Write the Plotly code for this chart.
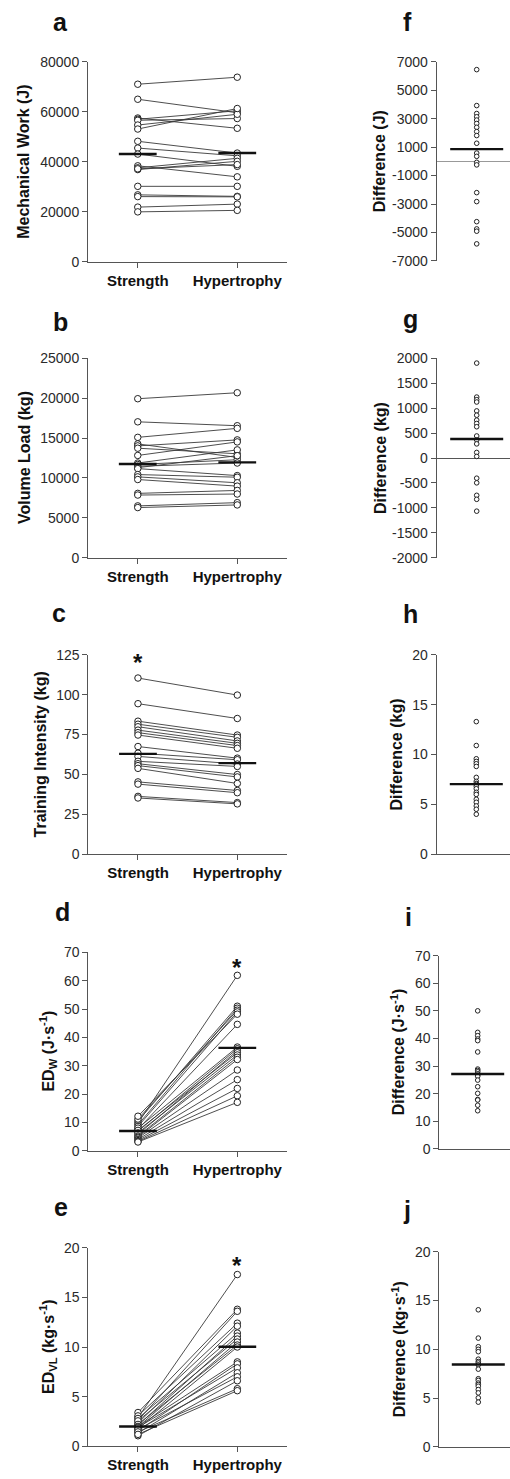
import plotly.graph_objects as go

W, H = 510, 1479
FONT = "Liberation Sans, Arial, sans-serif"

CATEGORIES = ["Strength", "Hypertrophy"]

# ---- paired data (left panels) ----
A_STRENGTH = [71000, 65000, 57500, 57000, 56600, 54700, 53100, 48200, 45500, 43100,
              38400, 37600, 36900, 37200, 30200, 26800, 26100, 21900, 20000]
A_HYPERTROPHY = [73800, 59600, 53400, 60400, 57300, 59000, 61300, 43500, 42400, 38200,
                 34000, 41400, 40200, 38900, 30200, 26200, 26000, 23100, 20600]
A_MEANS = [43100, 43500]

B_STRENGTH = [19950, 17050, 15100, 14280, 14030, 13740, 12830, 11880, 11700, 11470,
              11300, 11180, 10430, 10140, 9810, 8070, 7860, 6500, 6290]
B_HYPERTROPHY = [20700, 16560, 16230, 12580, 14780, 13040, 14530, 13530, 12290, 11880,
                 12800, 10300, 10100, 9400, 8980, 8440, 7990, 6910, 6620]
B_MEANS = [11750, 11960]

C_STRENGTH = [110.5, 94.4, 83.4, 81.5, 79.9, 77.8, 76.2, 74.7, 67.5, 63.3,
              61.3, 58.2, 56.7, 55.5, 53.8, 45.3, 43.9, 36.2, 35.2]
C_HYPERTROPHY = [99.8, 85.1, 74.7, 73.3, 71.0, 69.5, 68.1, 66.4, 60.2, 59.2,
                 56.5, 55.0, 49.9, 48.4, 44.3, 39.9, 38.5, 32.3, 31.5]
C_MEANS = [62.9, 57.1]

D_STRENGTH = [9.8, 10.5, 9.2, 11.2, 8.6, 12.2, 7.6, 8.0, 6.9, 5.8,
              7.2, 6.3, 5.2, 4.8, 4.5, 4.0, 3.6, 3.3, 3.1]
D_HYPERTROPHY = [61.9, 51.0, 50.3, 49.6, 49.0, 48.2, 44.6, 36.6, 36.0, 35.3,
                 34.6, 33.8, 33.0, 32.2, 28.5, 25.1, 22.0, 19.4, 17.1]
D_MEANS = [7.0, 36.3]

E_STRENGTH = [2.9, 3.4, 2.6, 3.06, 2.33, 2.8, 2.13, 2.56, 1.96, 2.2,
              1.76, 2.0, 1.56, 1.9, 1.33, 1.7, 1.06, 1.45, 1.2]
E_HYPERTROPHY = [17.3, 13.8, 13.6, 12.4, 12.1, 11.4, 11.1, 10.8, 10.5, 10.2,
                 10.0, 8.5, 8.3, 7.9, 7.4, 7.0, 6.6, 5.8, 5.6]
E_MEANS = [1.99, 10.03]

# ---- difference data (right panels) ----
F_DIFF = [6444, 3917, 3360, 3130, 2900, 2660, 2390, 2090, 1810, 1270,
          580, 350, -70, -250, -2200, -2830, -4240, -4750, -4910, -5800]
F_MEAN = 858
G_DIFF = [1907, 1225, 1172, 1126, 947, 861, 762, 695, 629, 444,
          364, 285, 113, 33, -404, -497, -748, -828, -1066]
G_MEAN = 384
H_DIFF = [13.3, 10.9, 9.57, 9.3, 9.07, 8.8, 7.7, 7.3, 7.1, 7.0,
          6.8, 6.56, 6.2, 5.99, 5.5, 5.2, 4.83, 4.5, 4.0]
H_MEAN = 7.02
I_DIFF = [50.0, 42.2, 41.0, 39.8, 39.2, 35.1, 28.9, 28.4, 27.9, 27.2,
          26.7, 26.3, 24.9, 22.5, 20.1, 17.9, 17.7, 15.8, 13.8]
I_MEAN = 27.1
J_DIFF = [14.05, 11.15, 10.27, 10.0, 9.76, 8.99, 8.75, 8.6, 8.41, 7.97,
          6.99, 6.82, 6.55, 6.4, 6.22, 5.88, 5.54, 5.03, 4.59]
J_MEAN = 8.45

F_TICKS = [-7000, -5000, -3000, -1000, 1000, 3000, 5000, 7000]
G_TICKS = [-2000, -1500, -1000, -500, 0, 500, 1000, 1500, 2000]

# ---------------------------------------------------------------
AXIS_COLOR = "#555555"
TICK_COLOR = "#2a2a2a"
LINE_COLOR = "#3a3a3a"


def xdom(l, r):
    return [l / W, min(r / W, 1.0)]


def ydom(top, bottom):
    return [1 - bottom / H, 1 - top / H]


fig = go.Figure()
layout = dict(
    width=W, height=H, margin=dict(l=0, r=0, t=0, b=0),
    paper_bgcolor="white", plot_bgcolor="white", showlegend=False,
    font=dict(family=FONT, color=TICK_COLOR),
)
annotations = []

left_panels = [
    dict(letter="a", s=A_STRENGTH, h=A_HYPERTROPHY, m=A_MEANS, yr=(0, 80000), dt=20000,
         box=(88, 287, 54.3, 256.7), title="Mechanical Work (J)", tx=24, lb=(60, 27), star=None),
    dict(letter="b", s=B_STRENGTH, h=B_HYPERTROPHY, m=B_MEANS, yr=(0, 25000), dt=5000,
         box=(88, 287, 354.3, 555.7), title="Volume Load (kg)", tx=24, lb=(60, 330), star=None),
    dict(letter="c", s=C_STRENGTH, h=C_HYPERTROPHY, m=C_MEANS, yr=(0, 125), dt=25,
         box=(88.3, 287, 654, 855.3), title="Training Intensity (kg)", tx=40, lb=(59, 625),
         star=(0, 123.8)),
    dict(letter="d", s=D_STRENGTH, h=D_HYPERTROPHY, m=D_MEANS, yr=(0, 70), dt=10,
         box=(88.3, 287, 954.7, 1155.3), title="ED<sub>W</sub> (J·s<sup>-1</sup>)", tx=48,
         lb=(62, 927), star=(1, 66.8)),
    dict(letter="e", s=E_STRENGTH, h=E_HYPERTROPHY, m=E_MEANS, yr=(0, 20), dt=5,
         box=(88.3, 287, 1253.3, 1454), title="ED<sub>VL</sub> (kg·s<sup>-1</sup>)", tx=48,
         lb=(61, 1225), star=(1, 18.8)),
]

right_panels = [
    dict(letter="f", d=F_DIFF, m=F_MEAN, yr=(-7000, 7000), ticks=F_TICKS, zero="#999999",
         box=(436.7, 510, 54.3, 255.7), pt=476.7, title="Difference (J)", tx=379, lb=(407, 27)),
    dict(letter="g", d=G_DIFF, m=G_MEAN, yr=(-2000, 2000), ticks=G_TICKS, zero="#555555",
         box=(436.7, 510, 354.3, 555.7), pt=476.7, title="Difference (kg)", tx=380, lb=(410, 327)),
    dict(letter="h", d=H_DIFF, m=H_MEAN, yr=(0, 20), dt=5, zero=None,
         box=(436.7, 510, 654, 855.3), pt=476.3, title="Difference (kg)", tx=396, lb=(410, 626)),
    dict(letter="i", d=I_DIFF, m=I_MEAN, yr=(0, 70), dt=10, zero=None,
         box=(439.3, 510, 958, 1153.3), pt=477.7, title="Difference (J·s<sup>-1</sup>)", tx=398,
         lb=(408, 932)),
    dict(letter="j", d=J_DIFF, m=J_MEAN, yr=(0, 20), dt=5, zero=None,
         box=(439.3, 510, 1257.3, 1454.7), pt=478.3, title="Difference (kg·s<sup>-1</sup>)", tx=399,
         lb=(407, 1228)),
]

order = []
for lp, rp in zip(left_panels, right_panels):
    order.append(("L", lp))
    order.append(("R", rp))

LETTER_SIZE = 25
TITLE_SIZE = 16
TICK_SIZE = 14
MEAN_HALF_L = 0.19
PX_PER_UNIT_R = 40.0
MEAN_HALF_R = 26.5 / PX_PER_UNIT_R

for idx, (side, p) in enumerate(order, start=1):
    xa = "x" if idx == 1 else f"x{idx}"
    ya = "y" if idx == 1 else f"y{idx}"
    xkey = "xaxis" if idx == 1 else f"xaxis{idx}"
    ykey = "yaxis" if idx == 1 else f"yaxis{idx}"
    l, r, top, bot = p["box"]

    if side == "L":
        xs, ys = [], []
        for sv, hv in zip(p["s"], p["h"]):
            xs += [0, 1, None]
            ys += [sv, hv, None]
        fig.add_trace(go.Scatter(
            x=xs, y=ys, mode="lines+markers", xaxis=xa, yaxis=ya,
            line=dict(color=LINE_COLOR, width=0.9),
            marker=dict(symbol="circle", size=6.5, color="white",
                        line=dict(color="#222222", width=1)),
            hoverinfo="skip"))
        for ci, mv in enumerate(p["m"]):
            fig.add_trace(go.Scatter(
                x=[ci - MEAN_HALF_L, ci + MEAN_HALF_L], y=[mv, mv], mode="lines",
                xaxis=xa, yaxis=ya, line=dict(color="#111111", width=2.4), hoverinfo="skip"))
        layout[xkey] = dict(
            domain=xdom(l, r), range=[-0.5, 1.5], anchor=ya,
            tickvals=[0, 1], ticktext=CATEGORIES, showline=True, linecolor=AXIS_COLOR,
            linewidth=1, ticks="outside", ticklen=5, tickcolor=AXIS_COLOR, showgrid=False,
            zeroline=False, tickfont=dict(family=FONT, size=15, color="#111111", weight="bold"))
        layout[ykey] = dict(
            domain=ydom(top, bot), range=list(p["yr"]), anchor=xa, dtick=p["dt"], tick0=0,
            tickformat="d", showline=True, linecolor=AXIS_COLOR, linewidth=1,
            ticks="outside", ticklen=5, tickcolor=AXIS_COLOR, showgrid=False, zeroline=False,
            tickfont=dict(family=FONT, size=TICK_SIZE, color=TICK_COLOR))
        if p["star"] is not None:
            annotations.append(dict(
                x=p["star"][0], y=p["star"][1], xref=xa, yref=ya, text="<b>*</b>",
                showarrow=False, xanchor="center", yanchor="middle", yshift=-6,
                font=dict(family=FONT, size=24, color="#111111")))
    else:
        n = len(p["d"])
        fig.add_trace(go.Scatter(
            x=[0] * n, y=p["d"], mode="markers", xaxis=xa, yaxis=ya,
            marker=dict(symbol="circle", size=4.6, color="white",
                        line=dict(color="#222222", width=1)),
            hoverinfo="skip"))
        fig.add_trace(go.Scatter(
            x=[-MEAN_HALF_R, MEAN_HALF_R], y=[p["m"], p["m"]], mode="lines",
            xaxis=xa, yaxis=ya, line=dict(color="#111111", width=2.4), hoverinfo="skip"))
        x0 = -(p["pt"] - l) / PX_PER_UNIT_R
        x1 = (r - p["pt"]) / PX_PER_UNIT_R
        has_zero = p["zero"] is not None
        layout[xkey] = dict(
            domain=xdom(l, r), range=[x0, x1], anchor=ya, showticklabels=False,
            ticks="", showline=not has_zero, linecolor=AXIS_COLOR, linewidth=1,
            showgrid=False, zeroline=False)
        yax = dict(
            domain=ydom(top, bot), range=list(p["yr"]), anchor=xa, showline=True,
            linecolor=AXIS_COLOR, linewidth=1, ticks="outside", ticklen=5,
            tickcolor=AXIS_COLOR, showgrid=False,
            tickfont=dict(family=FONT, size=TICK_SIZE, color=TICK_COLOR))
        if "ticks" in p:
            yax["tickvals"] = p["ticks"]
            yax["ticktext"] = [str(v) for v in p["ticks"]]
        else:
            yax["dtick"] = p["dt"]
            yax["tick0"] = 0
            yax["tickformat"] = "d"
        if has_zero:
            yax["zeroline"] = True
            yax["zerolinecolor"] = p["zero"]
            yax["zerolinewidth"] = 1.3
        else:
            yax["zeroline"] = False
        layout[ykey] = yax

    # panel letter
    annotations.append(dict(
        x=p["lb"][0] / W, y=1 - (p["lb"][1] - 13) / H, xref="paper", yref="paper",
        text=f"<b>{p['letter']}</b>", showarrow=False, xanchor="center", yanchor="middle",
        font=dict(family=FONT, size=LETTER_SIZE, color="#111111")))
    # y-axis title
    annotations.append(dict(
        x=p["tx"] / W, y=1 - ((top + bot) / 2) / H, xref="paper", yref="paper",
        text=f"<b>{p['title']}</b>", showarrow=False, textangle=-90,
        xanchor="center", yanchor="middle",
        font=dict(family=FONT, size=TITLE_SIZE, color="#111111")))

layout["annotations"] = annotations
fig.update_layout(**layout)
fig.write_html("out.html")
